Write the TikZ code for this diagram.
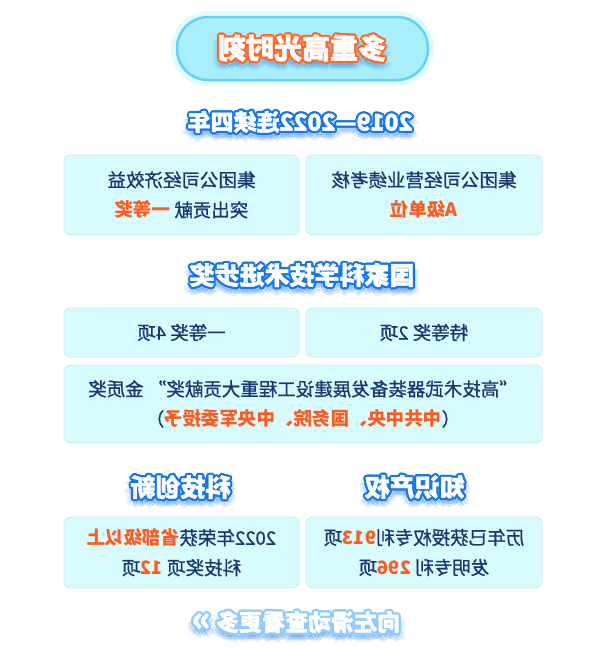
\documentclass[tikz,border=0pt]{standalone}
\usepackage{fontspec}
\setmainfont{Noto Sans CJK SC}
\newfontfamily\bodyfont{Noto Sans CJK SC}[FakeBold=0.9]
\newfontfamily\headfont{Noto Sans CJK SC}[FakeBold=1.6]
\usetikzlibrary{calc}
\definecolor{navy}{HTML}{1B3571}
\definecolor{org}{HTML}{FF5A1F}
\definecolor{boxfill}{HTML}{D8FBFD}
\definecolor{boxline}{HTML}{C6ECF3}
\definecolor{pillfill}{HTML}{ABEEFB}
\definecolor{pillline}{HTML}{5FD4F7}
\definecolor{pillglowc}{HTML}{E4FBFD}
\definecolor{titleorange}{HTML}{FF6A2A}
\definecolor{headblue}{HTML}{1777E6}
\definecolor{glowblue}{HTML}{3A8BF0}
\definecolor{softblue}{HTML}{8FCBFF}
\newcommand\fs[1]{\headfont\fontsize{#1}{#1}\selectfont\bfseries}
\newcommand\hl[1]{\textcolor{org}{\normalfont\bfseries #1}}
% #1 name, #2 x, #3 y, #4 size, #5 outline colour, #6 glow colour, #7 text
\newcommand\outlinedtext[7]{%
  \foreach \dx/\dy in {-4/4,0/5,4/4,-2/7,2/7,0/9,-6/6,6/6}
    \node[mir,font=\fs{#4},text=#6,opacity=0.10] at ($(#2,#3)+(\dx,\dy)$) {#7};
  \foreach \a in {0,30,...,330}
    \node[mir,font=\fs{#4},text=#5] at ($(#2,#3)+(\a:2.2)$) {#7};
  \node[mir,font=\fs{#4},text=white] (#1) at (#2,#3) {#7};
}
\begin{document}
\begin{tikzpicture}[x=1pt,y=-1pt,
  mir/.style={xscale=-1, inner sep=0pt},
  card/.style={mir, fill=boxfill, draw=boxline, line width=0.6pt, rounded corners=6pt,
    align=center, text=navy, font=\bodyfont\fontsize{18.5}{30}\selectfont},
  pillshape/.style={rounded corners=31pt, minimum width=251pt, minimum height=63pt, fill=pillfill}
]
\useasboundingbox[fill=white] (0,0) rectangle (607,649);

% title pill
\node[pillshape, draw=pillglowc, line width=12pt] (pillglow) at (302.5,48.5) {};
\node[pillshape, draw=pillline, line width=2.5pt] (pill) at (302.5,48.5) {};
\outlinedtext{title}{302}{48}{28}{titleorange}{glowblue}{多重高光时刻}

% section 1
\outlinedtext{h1}{300}{122}{23}{headblue}{glowblue}{2019—2022连续四年}
\node[card, minimum width=235pt, minimum height=80pt] (c1) at (181.5,195)
  {集团公司经济效益\\突出贡献 \hl{一等奖}};
\node[card, minimum width=236pt, minimum height=80pt] (c2) at (424,195)
  {集团公司经营业绩考核\\\hl{A级单位}};

% section 2
\outlinedtext{h2}{302}{275}{25}{headblue}{glowblue}{国家科学技术进步奖}
\node[card, minimum width=235pt, minimum height=49pt] (c3) at (181.5,332.5) {一等奖 4项};
\node[card, minimum width=236pt, minimum height=49pt] (c4) at (424,332.5) {特等奖 2项};
\node[card, minimum width=478pt, minimum height=78pt] (c5) at (303,404)
  {“高技术武器装备发展建设工程重大贡献奖” 金质奖\\（\hl{中共中央、国务院、中央军委授予}）};

% section 3
\outlinedtext{h3}{180.5}{487}{25}{headblue}{glowblue}{科技创新}
\outlinedtext{h4}{414.5}{487}{25}{headblue}{glowblue}{知识产权}
\node[card, minimum width=235pt, minimum height=71pt] (c6) at (181.5,552.5)
  {2022年荣获\hl{省部级以上}\\科技奖项 \hl{12}项};
\node[card, minimum width=236pt, minimum height=71pt] (c7) at (424,552.5)
  {历年已获授权专利\hl{913}项\\发明专利 \hl{296}项};

% footer
\outlinedtext{foot}{296}{622}{23}{softblue}{glowblue}{向左滑动查看更多 {\fontsize{34}{34}\selectfont »}}
\end{tikzpicture}
\end{document}
